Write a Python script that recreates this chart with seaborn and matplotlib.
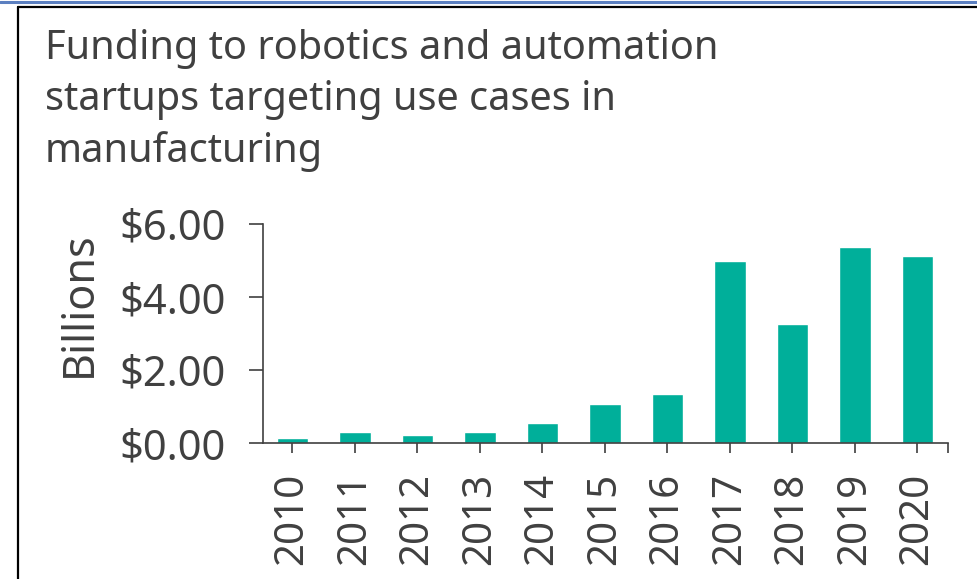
import matplotlib
matplotlib.use("Agg")
import matplotlib.pyplot as plt
from matplotlib.lines import Line2D
import seaborn as sns
import pandas as pd

years = ["2010", "2011", "2012", "2013", "2014", "2015", "2016", "2017", "2018", "2019", "2020"]
funding = [0.15, 0.31, 0.21, 0.31, 0.54, 1.06, 1.34, 4.99, 3.27, 5.37, 5.13]
ytick_values = [0, 2, 4, 6]
ytick_labels = ["$0.00", "$2.00", "$4.00", "$6.00"]
title_text = "Funding to robotics and automation\nstartups targeting use cases in\nmanufacturing"
ylabel_text = "Billions"

sns.set_style("white")
plt.rcParams["font.family"] = ["Noto Sans", "DejaVu Sans"]
TXT = "#404040"
BAR = "#00AF9A"

df = pd.DataFrame({"year": years, "funding": funding})

fig = plt.figure(figsize=(9.77, 5.79), dpi=100)
ax = fig.add_axes([263/977, 1-443/579, (948-263)/977, (443-224)/579])

sns.barplot(data=df, x="year", y="funding", color=BAR, width=0.5, ax=ax, saturation=1)

ax.set_xlim(-0.47, 10.49)
ax.set_ylim(0, 6)
ax.set_yticks(ytick_values)
ax.set_yticklabels(ytick_labels)
ax.set_xticks(list(range(len(years))) + [10.49])
ax.set_xticklabels(years + [""], rotation=90)
ax.set_xlabel("")
ax.set_ylabel("")

for s in ["top", "right"]:
    ax.spines[s].set_visible(False)
for s in ["left", "bottom"]:
    ax.spines[s].set_color(TXT)
    ax.spines[s].set_linewidth(1.2)

ax.tick_params(axis="y", left=True, length=10, width=1.2, color=TXT, labelsize=30, labelcolor=TXT, pad=17)
ax.tick_params(axis="x", bottom=True, length=7.5, width=1.2, color=TXT, labelsize=29, labelcolor=TXT, pad=14)

fig.text(80/977, 1-304/579, ylabel_text, rotation=90, ha="center", va="center", fontsize=31, color=TXT)
fig.text(45/977, 1-29/579, title_text, ha="left", va="top", fontsize=28.6, color=TXT, linespacing=1.36)

# frame lines
fig.add_artist(Line2D([0, 1], [1-1.5/579, 1-1.5/579], transform=fig.transFigure, color="#5B7FC0", lw=2.2))
fig.add_artist(Line2D([18/977, 1], [1-6.5/579, 1-6.5/579], transform=fig.transFigure, color="black", lw=1.6))
fig.add_artist(Line2D([18/977, 18/977], [0, 1-6.5/579], transform=fig.transFigure, color="black", lw=1.6))

fig.savefig("out.png", dpi=100)
